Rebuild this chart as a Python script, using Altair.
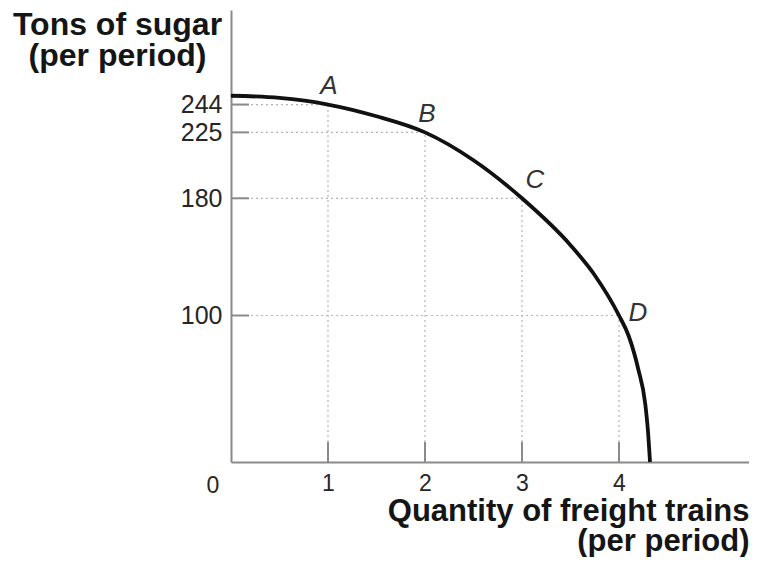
import altair as alt
import pandas as pd

# production possibilities curve (freight trains, tons of sugar)
curve_x = [0, 0.5, 1, 1.5, 2, 2.5, 3, 3.5, 3.75, 4, 4.1, 4.2, 4.27, 4.3, 4.32]
curve_y = [250, 248.5, 244, 236, 225, 206, 180, 148, 127.5, 100, 86, 63, 40, 20, 0]

point_labels = ["A", "B", "C", "D"]
point_x = [1, 2, 3, 4]
point_y = [244, 225, 180, 100]

x_ticks = [1, 2, 3, 4]
y_ticks = [100, 180, 225, 244]

W, H = 518, 452
X_MAX = W / 97.0
Y_MAX = H / 1.465

FONT = "Liberation Sans"
AXIS_GRAY = "#8a8a8a"
TEXT = "#262626"

curve_df = pd.DataFrame({"x": curve_x, "y": curve_y})
pts_df = pd.DataFrame({"label": point_labels, "x": point_x, "y": point_y})

xs = alt.Scale(domain=[0, X_MAX], nice=False, zero=False)
ys = alt.Scale(domain=[0, Y_MAX], nice=False, zero=False)

x_axis = alt.Axis(
    values=x_ticks,
    grid=False,
    ticks=False,
    domainColor=AXIS_GRAY,
    domainWidth=2,
    labelFont=FONT,
    labelFontSize=23,
    labelColor=TEXT,
    labelPadding=10,
    title=["Quantity of freight trains", "(per period)"],
    titleFont=FONT,
    titleFontSize=31,
    titleFontWeight="bold",
    titleColor="#151515",
    titleAlign="right",
    titleAnchor="end",
    titleBaseline="alphabetic",
    titleX=W,
    titleY=58,
    titleLineHeight=30,
)
y_axis = alt.Axis(
    values=y_ticks,
    grid=False,
    ticks=False,
    domainColor=AXIS_GRAY,
    domainWidth=2,
    labelFont=FONT,
    labelFontSize=25,
    labelColor=TEXT,
    labelPadding=9,
    title=["Tons of sugar", "(per period)"],
    titleFont=FONT,
    titleFontSize=32,
    titleFontWeight="bold",
    titleColor="#151515",
    titleAngle=0,
    titleAlign="center",
    titleBaseline="alphabetic",
    titleX=-114,
    titleY=24,
    titleLineHeight=31,
)

X = lambda f: alt.X(f, scale=xs, axis=x_axis)
Y = lambda f: alt.Y(f, scale=ys, axis=y_axis)

base_pts = alt.Chart(pts_df).transform_calculate(zero="0")

grid_h = base_pts.mark_rule(color="#b5b5b5", strokeWidth=1.2, strokeDash=[2, 3]).encode(
    x=X("zero:Q"),
    x2="x:Q",
    y=Y("y:Q"),
)
grid_v = base_pts.mark_rule(color="#b5b5b5", strokeWidth=1.2, strokeDash=[2, 3]).encode(
    x=X("x:Q"),
    y=Y("zero:Q"),
    y2="y:Q",
)
tick_y = alt.Chart(pd.DataFrame({"y": y_ticks})).mark_rule(color=AXIS_GRAY, strokeWidth=2).encode(
    y=Y("y:Q"),
    x=alt.value(0),
    x2=alt.value(18),
)
tick_x = alt.Chart(pd.DataFrame({"x": x_ticks})).mark_rule(color=AXIS_GRAY, strokeWidth=2).encode(
    x=X("x:Q"),
    y=alt.value(H),
    y2=alt.value(H - 20),
)

curve = alt.Chart(curve_df).mark_line(color="#111111", strokeWidth=3.8, interpolate="monotone").encode(
    x=X("x:Q"),
    y=Y("y:Q"),
)

offsets = {"A": (1, -19), "B": (2, -18), "C": (13, -18), "D": (19, -3)}
label_layers = []
for lab in point_labels:
    dx, dy = offsets[lab]
    label_layers.append(
        alt.Chart(pts_df)
        .transform_filter(alt.datum.label == lab)
        .mark_text(font=FONT, fontSize=26, fontStyle="italic", color="#333333",
                   align="center", baseline="middle", dx=dx, dy=dy)
        .encode(
            x=X("x:Q"),
            y=Y("y:Q"),
            text="label:N",
        )
    )

zero_label = alt.Chart(pd.DataFrame({"x": [0], "y": [0], "t": ["0"]})).mark_text(
    font=FONT, fontSize=23, color=TEXT, align="center", baseline="middle", dx=-18, dy=24
).encode(
    x=X("x:Q"),
    y=Y("y:Q"),
    text="t:N",
)

chart = alt.layer(grid_h, grid_v, tick_y, tick_x, curve, *label_layers, zero_label).properties(
    width=W,
    height=H,
    autosize=alt.AutoSizeParams(type="none"),
    padding={"left": 223, "top": 2, "right": 0, "bottom": 95},
    background="white",
).configure_view(stroke=None)

chart.save("out.html", embed_options={"renderer": "svg", "actions": False})
